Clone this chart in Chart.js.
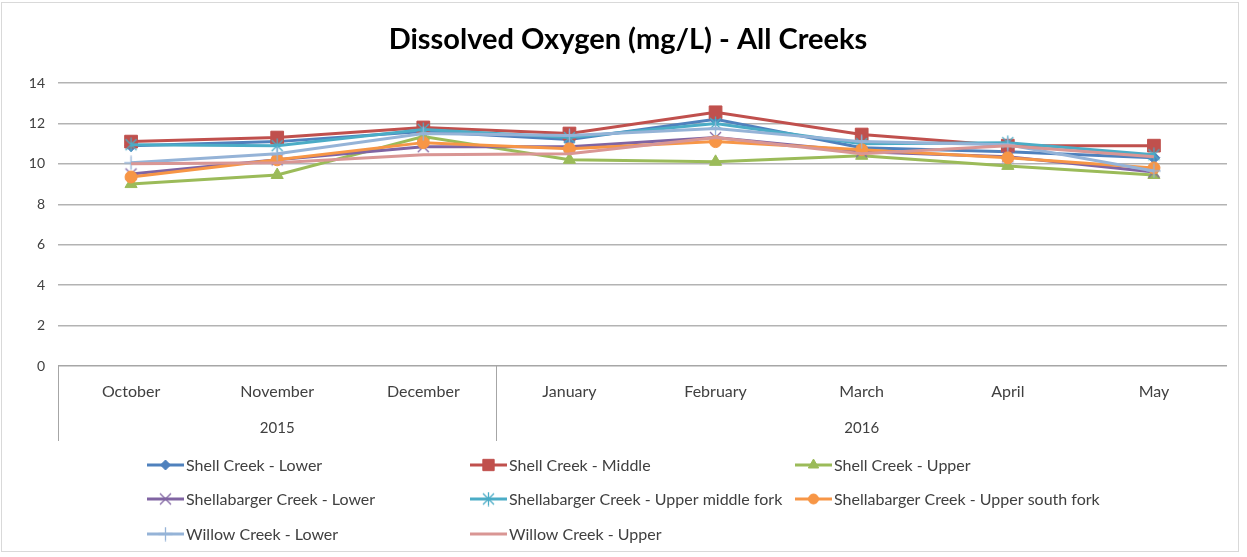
<!DOCTYPE html>
<html>
<head>
<meta charset="utf-8">
<script src="https://cdn.jsdelivr.net/npm/chart.js@4/dist/chart.umd.min.js"></script>
<style>
  html, body { margin: 0; padding: 0; background: #fff; }
  #wrap { position: relative; width: 1247px; height: 557px; }
  #frame { position: absolute; left: 1px; top: 2px; width: 1238px; height: 550px; border: 1px solid #d9d9d9; box-sizing: border-box; pointer-events: none; }
</style>
</head>
<body>
<div id="wrap">
  <canvas id="doChart" width="1247" height="557"></canvas>
  <div id="frame"></div>
</div>
<script>
// Dissolved oxygen readings (mg/L) by month
const months = ['October', 'November', 'December', 'January', 'February', 'March', 'April', 'May'];
const yearLabels = ['2015', '2016'];
const yearSpans = [3, 5];
const yTicks = [0, 2, 4, 6, 8, 10, 12, 14];

const seriesNames = [
  'Shell Creek - Lower',
  'Shell Creek - Middle',
  'Shell Creek - Upper',
  'Shellabarger Creek - Lower',
  'Shellabarger Creek - Upper middle fork',
  'Shellabarger Creek - Upper south fork',
  'Willow Creek - Lower',
  'Willow Creek - Upper'
];

const shellLower = [10.9, 11.1, 11.6, 11.2, 12.2, 10.8, 10.6, 10.3];
const shellMiddle = [11.1, 11.3, 11.8, 11.5, 12.55, 11.45, 10.9, 10.9];
const shellUpper = [9.0, 9.45, 11.35, 10.2, 10.1, 10.4, 9.9, 9.45];
const shellabargerLower = [9.5, 10.2, 10.85, 10.85, 11.3, 10.6, 10.35, 9.6];
const shellabargerMidFork = [10.95, 10.9, 11.7, 11.3, 12.0, 11.0, 11.05, 10.45];
const shellabargerSouthFork = [9.35, 10.2, 11.05, 10.75, 11.1, 10.7, 10.3, 9.8];
const willowLower = [10.05, 10.5, 11.5, 11.4, 11.75, 11.1, 10.95, 9.65];
const willowUpper = [10.0, 10.05, 10.45, 10.5, 11.3, 10.5, 10.9, 10.35];

const seriesValues = [shellLower, shellMiddle, shellUpper, shellabargerLower,
  shellabargerMidFork, shellabargerSouthFork, willowLower, willowUpper];
const seriesColors = ['#4f81bd', '#c0504d', '#9bbb59', '#8064a2', '#4bacc6', '#f79646', '#95b3d7', '#d99694'];
const seriesMarkers = ['rectRot', 'rect', 'triangle', 'xMark', 'starMark', 'circle', 'plusMark', null];
const markerSizes = [6, 9, 7, 0, 0, 6, 0, 0];

const FONT = 'Lato, "Liberation Sans", sans-serif';

// thin line markers like Excel's x, * and + (drawn on a small canvas)
function lineMarker(kind, color) {
  const c = document.createElement('canvas');
  c.width = 15; c.height = 15;
  const g = c.getContext('2d');
  g.strokeStyle = color;
  g.lineWidth = 1.3;
  g.beginPath();
  if (kind === 'xMark' || kind === 'starMark') {
    g.moveTo(2, 2); g.lineTo(13, 13);
    g.moveTo(13, 2); g.lineTo(2, 13);
  }
  if (kind === 'starMark' || kind === 'plusMark') {
    g.moveTo(7.5, 0.5); g.lineTo(7.5, 14.5);
  }
  if (kind === 'plusMark') {
    g.moveTo(0.5, 7.5); g.lineTo(14.5, 7.5);
  }
  g.stroke();
  return c;
}

function markerFor(i) {
  const m = seriesMarkers[i];
  if (!m) return false;
  if (m.endsWith('Mark')) return lineMarker(m, seriesColors[i]);
  return m;
}

// Title, year grouping row, separators and the 3-column legend
const excelDecor = {
  id: 'excelDecor',
  afterDraw(chart) {
    const ctx = chart.ctx;
    const area = chart.chartArea;
    ctx.save();

    // title
    ctx.fillStyle = '#000';
    ctx.font = 'bold 29px ' + FONT;
    ctx.textAlign = 'center';
    ctx.textBaseline = 'middle';
    ctx.fillText('Dissolved Oxygen (mg/L) - All Creeks', 628, 40);

    // group separators + year labels
    const step = (area.right - area.left) / months.length;
    ctx.strokeStyle = '#a6a6a6';
    ctx.lineWidth = 1;
    let start = 0;
    const edges = [area.left];
    yearLabels.forEach((yr, i) => {
      const x0 = area.left + start * step;
      const x1 = area.left + (start + yearSpans[i]) * step;
      edges.push(x1);
      ctx.fillStyle = '#404040';
      ctx.font = '15px ' + FONT;
      ctx.fillText(yr, (x0 + x1) / 2, 428);
      start += yearSpans[i];
    });
    edges.forEach((x, i) => {
      if (i === edges.length - 1) return;
      const px = Math.round(x) + 0.5;
      ctx.beginPath();
      ctx.moveTo(px, area.bottom);
      ctx.lineTo(px, 441);
      ctx.stroke();
    });

    // legend
    const colX = [147, 470, 795];
    const rowY = [465, 499, 534];
    ctx.textAlign = 'left';
    ctx.font = '16px ' + FONT;
    chart.data.datasets.forEach((ds, i) => {
      const x = colX[i % 3];
      const y = rowY[Math.floor(i / 3)];
      ctx.strokeStyle = ds.borderColor;
      ctx.lineWidth = 3;
      ctx.beginPath();
      ctx.moveTo(x, y);
      ctx.lineTo(x + 37, y);
      ctx.stroke();
      if (ds.pointStyle) {
        ctx.fillStyle = ds.borderColor;
        ctx.strokeStyle = ds.borderColor;
        ctx.lineWidth = 1;
        Chart.helpers.drawPoint(ctx, {
          pointStyle: ds.pointStyle,
          radius: Math.max(4, ds.pointRadius - 1),
          rotation: 0,
          borderWidth: 1
        }, x + 18.5, y);
      }
      ctx.fillStyle = '#404040';
      ctx.fillText(ds.label, x + 39, y + 1);
    });
    ctx.restore();
  }
};

const datasets = seriesNames.map((name, i) => ({
  label: name,
  data: seriesValues[i],
  borderColor: seriesColors[i],
  backgroundColor: seriesColors[i],
  pointStyle: markerFor(i),
  pointRadius: seriesMarkers[i] ? (markerSizes[i] || 7) : 0,
  pointBorderWidth: 1,
  borderWidth: 3,
  tension: 0,
  order: -i
}));

new Chart(document.getElementById('doChart'), {
  type: 'line',
  data: { labels: months, datasets: datasets },
  options: {
    responsive: false,
    animation: false,
    events: [],
    layout: { padding: { left: 0, right: 20, top: 83, bottom: 116 } },
    plugins: {
      legend: { display: false },
      title: { display: false },
      tooltip: { enabled: false }
    },
    scales: {
      x: {
        offset: true,
        grid: { display: false, drawTicks: false },
        border: { display: false },
        ticks: {
          padding: 16,
          color: '#404040',
          font: { family: FONT, size: 16 },
          maxRotation: 0,
          autoSkip: false
        },
        afterFit(scale) { scale.height = 75; }
      },
      y: {
        min: 0,
        max: 14,
        afterBuildTicks(scale) { scale.ticks = yTicks.map(v => ({ value: v })); },
        grid: {
          color: ctx => ctx.tick && ctx.tick.value === 0 ? '#a6a6a6' : '#b3b3b3',
          lineWidth: 1.5,
          drawTicks: false
        },
        border: { display: false },
        ticks: {
          padding: 13,
          color: '#404040',
          font: { family: FONT, size: 14 }
        },
        afterFit(scale) { scale.width = 58; }
      }
    }
  },
  plugins: [excelDecor]
});
</script>
</body>
</html>
